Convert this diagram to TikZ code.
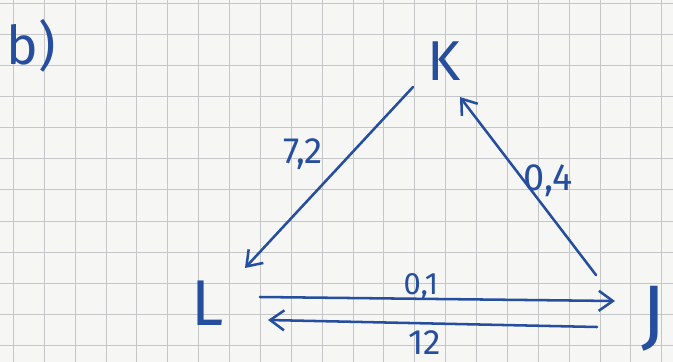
\documentclass[tikz,border=0pt]{standalone}
\usepackage{fontspec}
\setmainfont{Fira Sans}
\usetikzlibrary{arrows.meta}
\definecolor{ink}{RGB}{38,78,158}
\definecolor{paper}{RGB}{246,246,244}
\definecolor{gridline}{RGB}{196,198,200}

\begin{document}
\begin{tikzpicture}[x=0.025cm,y=-0.025cm,>={Straight Barb[length=3.5mm,width=5mm]},
  arr/.style={->,ink,line width=1.8pt,line cap=round,line join=round},
  lbl/.style={ink,anchor=base,inner sep=0pt}]
\useasboundingbox (0,0) rectangle (673,362);
\clip (0,0) rectangle (673,362);
\fill[paper] (0,0) rectangle (673,362);
% squared paper
\foreach \i in {0,...,21} \draw[gridline,line width=0.6pt] ({13.3+30.88*\i},0) -- ({13.3+30.88*\i},362);
\foreach \j in {0,...,11} \draw[gridline,line width=0.6pt] (0,{3.3+31.1*\j}) -- (673,{3.3+31.1*\j});
% letters
\node[lbl,font=\fontsize{38}{40}\selectfont] (part) at (31,64) {b)};
\node[lbl,font=\fontsize{40}{42}\selectfont] (K) at (444,80) {K};
\node[lbl,font=\fontsize{46}{48}\selectfont] (L) at (208,325) {L};
\node[lbl,font=\fontsize{56}{58}\selectfont] (J) at (654,340) {J};
% arrows
\draw[arr] ([shift={(-31,7)}]K.base) -- ([shift={(37,-57)}]L.base);
\draw[arr] ([shift={(-58,-65)}]J.base) -- ([shift={(16,17)}]K.base);
\draw[arr] ([shift={(52,-28)}]L.base) -- ([shift={(-39,-39)}]J.base);
\draw[arr] ([shift={(-57,-13)}]J.base) -- ([shift={(60,-5)}]L.base);
% rates
\node[lbl,font=\fontsize{26}{28}\selectfont] (kl) at (303,163) {7,2};
\node[lbl,font=\fontsize{27}{29}\selectfont] (jk) at (548,190) {0,4};
\node[lbl,font=\fontsize{22}{24}\selectfont] (lj) at (421,294) {0,1};
\node[lbl,font=\fontsize{25}{27}\selectfont] (jl) at (425,354) {12};
\end{tikzpicture}
\end{document}
